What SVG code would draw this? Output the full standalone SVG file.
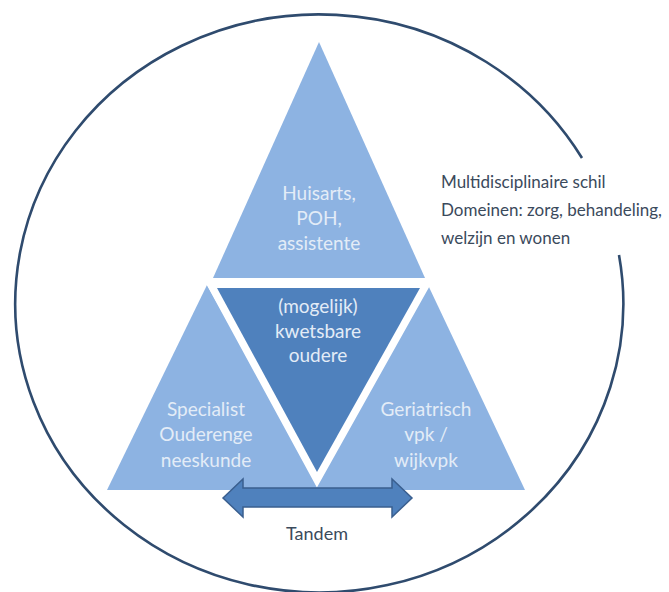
<svg xmlns="http://www.w3.org/2000/svg" width="669" height="592" viewBox="0 0 669 592">
<style>
.tri{fill:#8db3e2}
.vtri{fill:#4f81bd}
.lbl{font-family:Lato,"Open Sans","Liberation Sans",sans-serif;font-size:19px;fill:#e3ecf7;text-anchor:middle}
.dark{font-family:Lato,"Open Sans","Liberation Sans",sans-serif;fill:#3b4a5c}
</style>
<rect width="669" height="592" fill="#ffffff"/>
<g id="shell">
<path d="M619,255 A304,289 0 1 1 582,158" fill="none" stroke="#2f4b6e" stroke-width="2.6"/>
<text class="dark" font-size="17" x="441" y="188">Multidisciplinaire schil</text>
<text class="dark" font-size="17" x="441" y="216">Domeinen: zorg, behandeling,</text>
<text class="dark" font-size="17" x="441" y="244">welzijn en wonen</text>
</g>
<g id="node-top">
<polygon class="tri" points="319,42 425,278 213,278"/>
<text class="lbl" x="319" y="200">Huisarts,</text>
<text class="lbl" x="319" y="225">POH,</text>
<text class="lbl" x="319" y="250">assistente</text>
</g>
<g id="node-left">
<polygon class="tri" points="207,285 322,490 107,490"/>
</g>
<g id="node-right">
<polygon class="tri" points="428,285 525,490 312,490"/>
</g>
<g id="node-center">
<polygon points="217,288 420,288 317,472" fill="#ffffff" stroke="#ffffff" stroke-width="15" stroke-linejoin="miter"/>
<polygon class="vtri" points="217,288 420,288 317,472"/>
<text class="lbl" x="318" y="313">(mogelijk)</text>
<text class="lbl" x="318" y="338">kwetsbare</text>
<text class="lbl" x="318" y="362">oudere</text>
</g>
<g id="labels-side">
<text class="lbl" x="206" y="416">Specialist</text>
<text class="lbl" x="206" y="441">Ouderenge</text>
<text class="lbl" x="206" y="467">neeskunde</text>
<text class="lbl" x="426" y="416">Geriatrisch</text>
<text class="lbl" x="426" y="441">vpk /</text>
<text class="lbl" x="426" y="467">wijkvpk</text>
</g>
<g id="connectors">
<polygon points="223,498 243,479 243,488 392,488 392,479 412,498 392,517 392,507 243,507 243,517" fill="#4f81bd" stroke="#3a5f8f" stroke-width="1.5" stroke-linejoin="miter"/>
<text class="dark" font-size="18" x="317" y="540" text-anchor="middle">Tandem</text>
</g>
</svg>
